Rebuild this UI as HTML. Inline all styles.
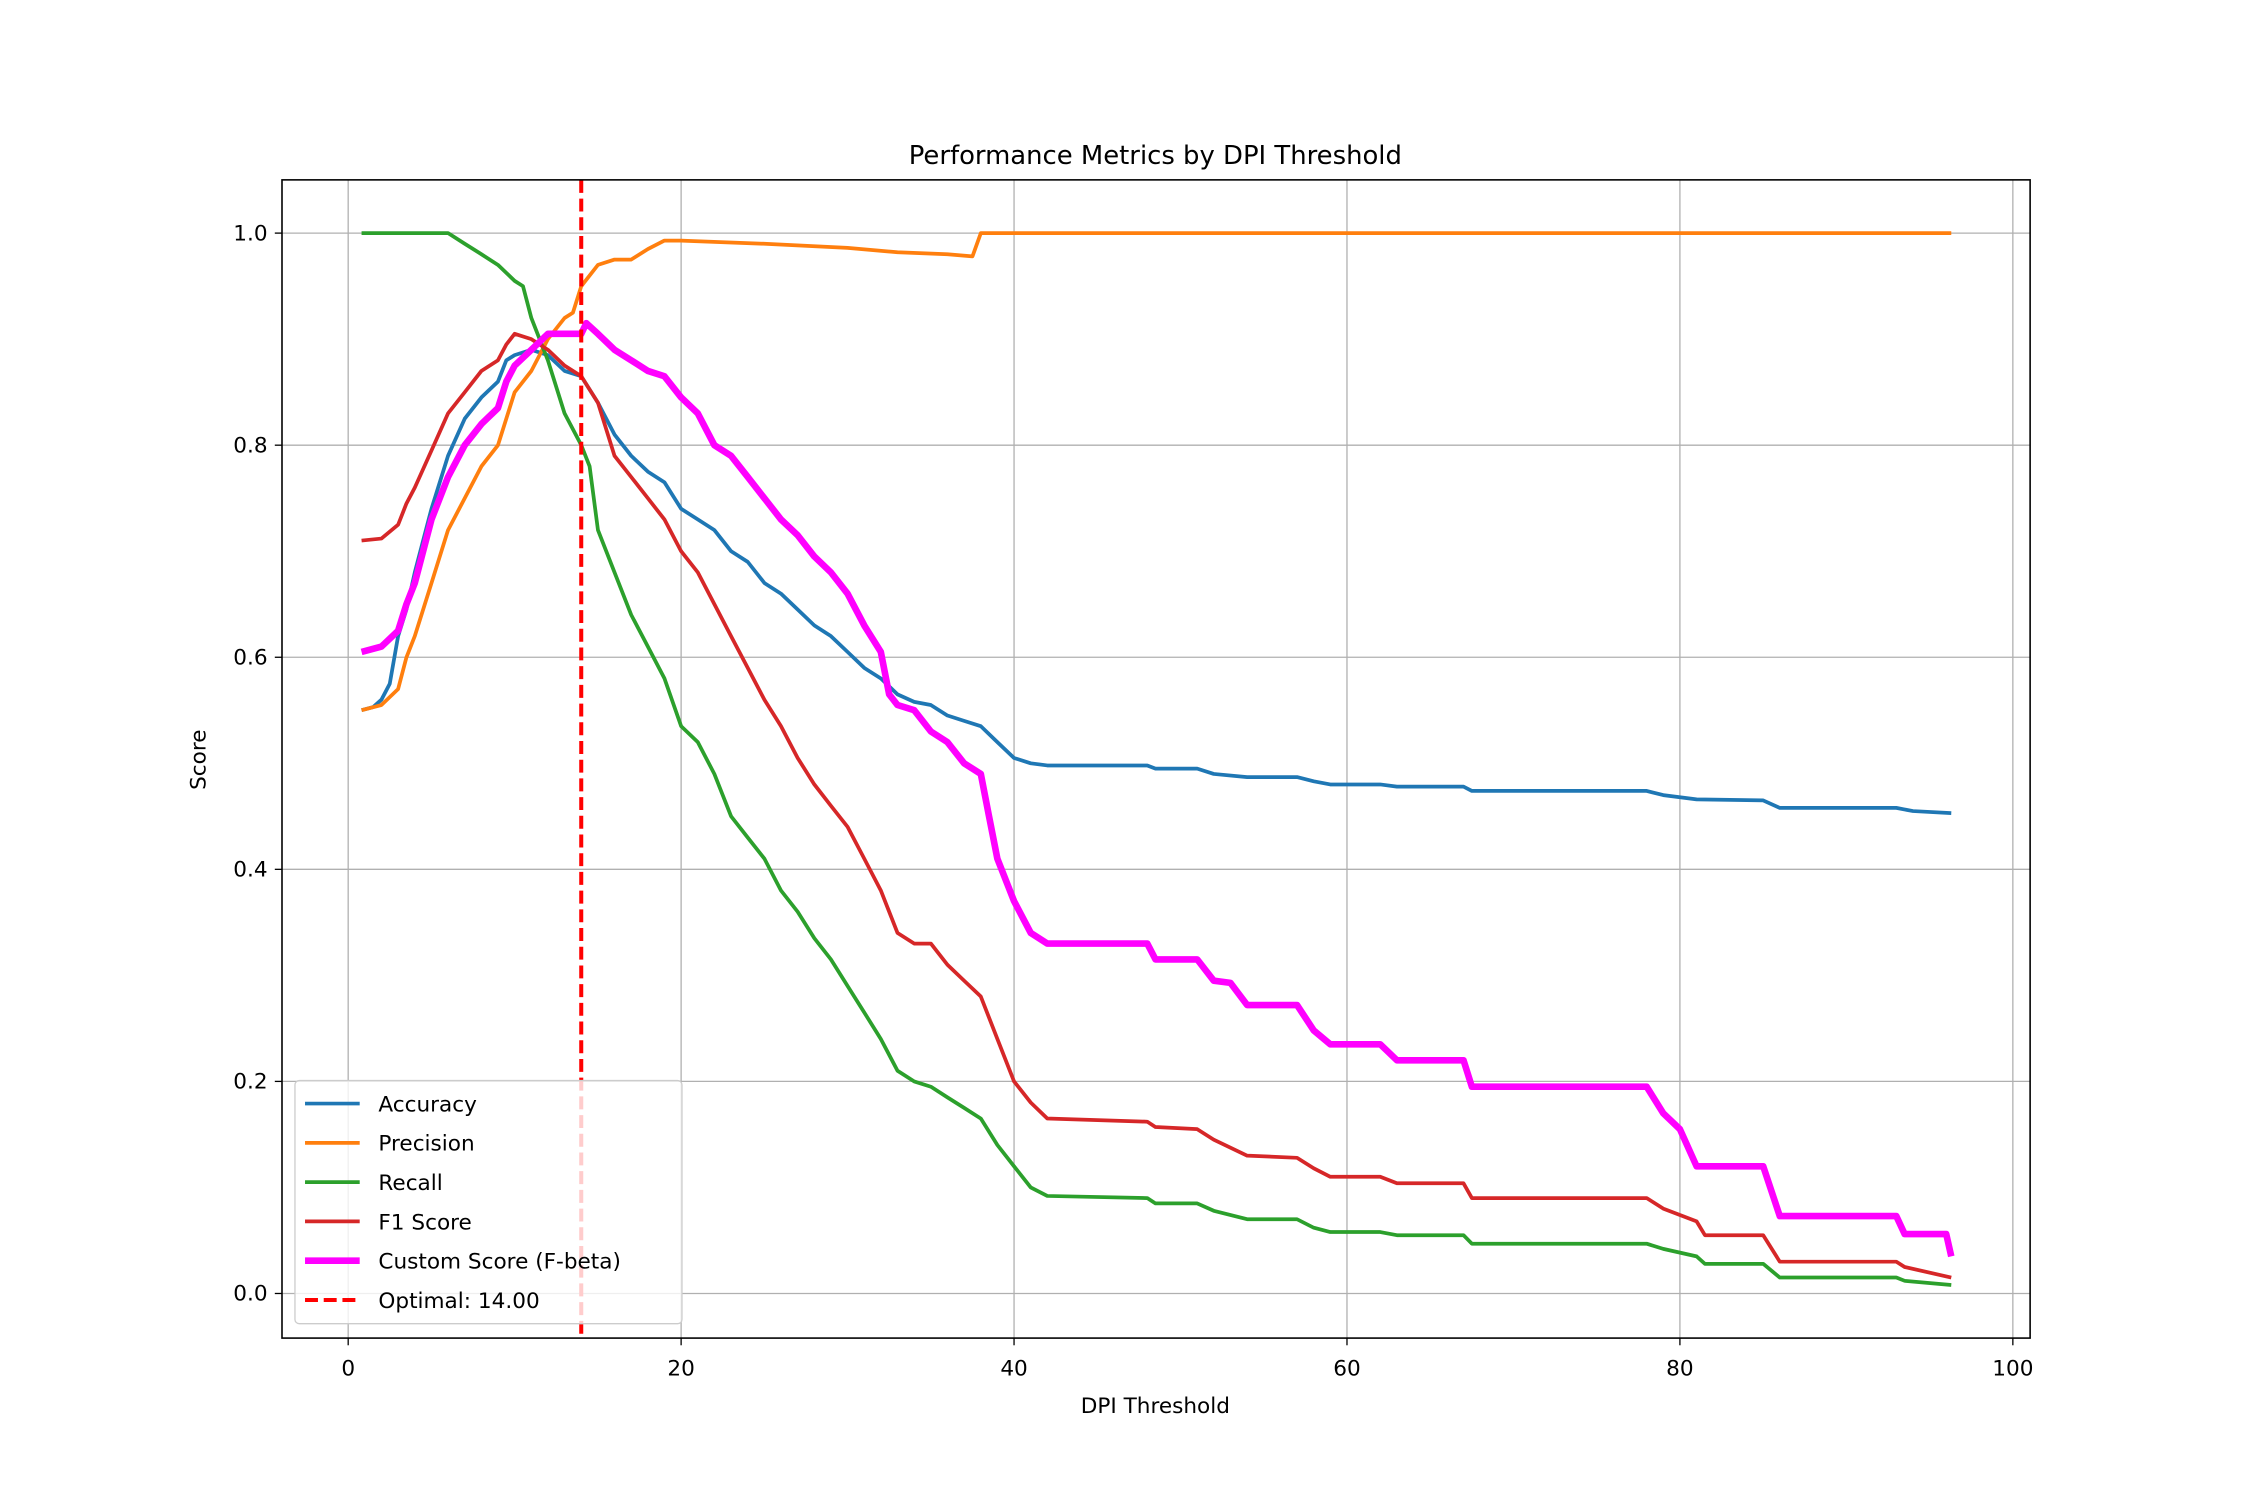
<!DOCTYPE html>
<html><head><meta charset="utf-8"><style>
html,body{margin:0;padding:0;background:#fff}
svg{display:block;font-family:"DejaVu Sans","Liberation Sans",sans-serif}
</style></head><body>
<svg id="chart" width="2256" height="1504" viewBox="0 0 1568 1045.3" xmlns="http://www.w3.org/2000/svg">
<rect width="1568" height="1046" fill="#fff"/>
<g id="grid"></g>
<g id="series"></g>
<rect x="196" y="125" width="1215" height="805" fill="none" stroke="#000" stroke-width="1.1"/>
<g id="ticks"></g>
<text x="803" y="114" font-size="18" text-anchor="middle">Performance Metrics by DPI Threshold</text>
<text x="803" y="982" font-size="15" text-anchor="middle">DPI Threshold</text>
<text transform="translate(143,528) rotate(-90)" font-size="15" text-anchor="middle">Score</text>
<g id="legend"></g>
</svg>
<script>
const xTicks=[0,20,40,60,80,100];
const yTicks=[0.0,0.2,0.4,0.6,0.8,1.0];
const accuracyX=[0.8,1.5,2,2.5,3,3.5,4,5,6,7,8,9,9.5,10,11,12,13,14,15,16,17,18,19,20,21,22,23,24,25,26,27,28,29,30,31,32,33,34,35,36,37,38,39,40,41,42,48,48.5,51,52,54,57,58,59,62,63,67,67.5,78,79,81,85,86,93,94,96.3];
const accuracyY=[0.55,0.553,0.56,0.575,0.62,0.645,0.68,0.74,0.79,0.825,0.845,0.86,0.88,0.885,0.89,0.885,0.87,0.865,0.84,0.81,0.79,0.775,0.765,0.74,0.73,0.72,0.70,0.69,0.67,0.66,0.645,0.63,0.62,0.605,0.59,0.58,0.565,0.558,0.555,0.545,0.54,0.535,0.52,0.505,0.5,0.498,0.498,0.495,0.495,0.49,0.487,0.487,0.483,0.48,0.48,0.478,0.478,0.474,0.474,0.47,0.466,0.465,0.458,0.458,0.455,0.453];
const precisionX=[0.8,2,3,3.5,4,5,6,7,8,9,9.5,10,11,12,13,13.5,14,15,16,17,18,19,20,25,30,33,36,37.5,38,96.3];
const precisionY=[0.55,0.555,0.57,0.6,0.62,0.67,0.72,0.75,0.78,0.80,0.825,0.85,0.87,0.90,0.92,0.925,0.95,0.97,0.975,0.975,0.985,0.993,0.993,0.99,0.986,0.982,0.98,0.978,1.0,1.0];
const recallX=[0.8,6,7,8,9,10,10.5,11,12,13,14,14.5,15,16,17,18,19,20,21,22,23,24,25,26,27,28,29,30,31,32,33,34,35,36,37,38,39,40,41,42,48,48.5,51,52,54,57,58,59,62,63,67,67.5,78,79,81,81.5,85,86,93,93.5,96.3];
const recallY=[1.0,1.0,0.99,0.98,0.97,0.955,0.95,0.92,0.88,0.83,0.80,0.78,0.72,0.68,0.64,0.61,0.58,0.535,0.52,0.49,0.45,0.43,0.41,0.38,0.36,0.335,0.315,0.29,0.265,0.24,0.21,0.2,0.195,0.185,0.175,0.165,0.14,0.12,0.1,0.092,0.09,0.085,0.085,0.078,0.07,0.07,0.062,0.058,0.058,0.055,0.055,0.047,0.047,0.042,0.035,0.028,0.028,0.015,0.015,0.012,0.008];
const f1X=[0.8,2,3,3.5,4,5,6,7,8,9,9.5,10,11,12,13,14,15,16,17,18,19,20,21,22,23,24,25,26,27,28,29,30,31,32,33,34,35,36,37,38,39,40,41,42,48,48.5,51,52,54,57,58,59,62,63,67,67.5,78,79,81,81.5,85,86,93,93.5,96.3];
const f1Y=[0.71,0.712,0.725,0.745,0.76,0.795,0.83,0.85,0.87,0.88,0.895,0.905,0.9,0.89,0.875,0.865,0.84,0.79,0.77,0.75,0.73,0.70,0.68,0.65,0.62,0.59,0.56,0.535,0.505,0.48,0.46,0.44,0.41,0.38,0.34,0.33,0.33,0.31,0.295,0.28,0.24,0.2,0.18,0.165,0.162,0.157,0.155,0.145,0.13,0.128,0.118,0.11,0.11,0.104,0.104,0.09,0.09,0.08,0.068,0.055,0.055,0.03,0.03,0.025,0.015];
const customX=[0.8,2,3,3.5,4,5,6,7,8,9,9.5,10,11,12,13,14,14.3,15,16,17,18,19,20,21,22,23,24,25,26,27,28,29,30,31,32,32.5,33,34,35,36,37,38,38.5,39,40,41,42,48,48.5,51,52,53,54,57,58,59,62,63,67,67.5,78,79,80,81,85,86,93,93.5,96,96.3];
const customY=[0.605,0.61,0.625,0.65,0.67,0.73,0.77,0.8,0.82,0.835,0.86,0.875,0.89,0.905,0.905,0.905,0.915,0.905,0.89,0.88,0.87,0.865,0.845,0.83,0.8,0.79,0.77,0.75,0.73,0.715,0.695,0.68,0.66,0.63,0.605,0.565,0.555,0.55,0.53,0.52,0.5,0.49,0.45,0.41,0.37,0.34,0.33,0.33,0.315,0.315,0.295,0.293,0.272,0.272,0.248,0.235,0.235,0.22,0.22,0.195,0.195,0.17,0.155,0.12,0.12,0.073,0.073,0.056,0.056,0.035];
const optimal=14;

const NS="http://www.w3.org/2000/svg";
const sx=v=>242+v*11.57, sy=v=>899-v*737;
function mk(tag,attrs,parent){const e=document.createElementNS(NS,tag);for(const k in attrs)e.setAttribute(k,attrs[k]);parent.appendChild(e);return e;}
const grid=document.getElementById('grid'),ticks=document.getElementById('ticks'),series=document.getElementById('series'),legend=document.getElementById('legend');
xTicks.forEach(t=>{
 const g=mk('line',{x1:sx(t),x2:sx(t),y1:125,y2:930,stroke:'#b0b0b0','stroke-width':0.9},grid);
 
 
 const tk=mk('line',{x1:sx(t),x2:sx(t),y1:930,y2:935,stroke:'#000','stroke-width':0.9},ticks);
 
 
 const l=mk('text',{x:sx(t),y:956,'font-size':15,'text-anchor':'middle'},ticks);l.textContent=t;
 
 
});
yTicks.forEach(t=>{
 const g=mk('line',{x1:196,x2:1411,y1:sy(t),y2:sy(t),stroke:'#b0b0b0','stroke-width':0.9},grid);
 
 
 const tk=mk('line',{x1:191,x2:196,y1:sy(t),y2:sy(t),stroke:'#000','stroke-width':0.9},ticks);
 
 
 const l=mk('text',{x:186,y:sy(t)+5,'font-size':15,'text-anchor':'end'},ticks);l.textContent=t.toFixed(1);
 
 
});
const defs=[
 ['accuracy-line',accuracyX,accuracyY,'#1f77b4',2.6],
 ['precision-line',precisionX,precisionY,'#ff7f0e',2.6],
 ['recall-line',recallX,recallY,'#2ca02c',2.6],
 ['f1-score-line',f1X,f1Y,'#d62728',2.6],
 ['custom-score-line',customX,customY,'#ff00ff',4.6]
];
defs.forEach(([n,xs,ys,c,w])=>{
 const p=mk('polyline',{points:xs.map((x,i)=>sx(x).toFixed(1)+','+sy(ys[i]).toFixed(1)).join(' '),fill:'none',stroke:c,'stroke-width':w,'stroke-linejoin':'round'},series);
 
 
});
const opt=mk('line',{x1:sx(optimal),x2:sx(optimal),y1:125,y2:930,stroke:'#ff0000','stroke-width':2.8,'stroke-dasharray':'9,4'},series);


const box=mk('rect',{x:205,y:751,width:269,height:169,rx:3,fill:'#fff','fill-opacity':0.8,stroke:'#ccc','stroke-width':0.9},legend);


const items=[['Accuracy','#1f77b4',2.6,''],['Precision','#ff7f0e',2.6,''],['Recall','#2ca02c',2.6,''],['F1 Score','#d62728',2.6,''],['Custom Score (F-beta)','#ff00ff',4.6,''],['Optimal: 14.00','#ff0000',2.8,'9,4']];
items.forEach((it,i)=>{
 const y=767+i*27.3;
 const ln=mk('line',{x1:212,x2:250,y1:y,y2:y,stroke:it[1],'stroke-width':it[2],'stroke-dasharray':it[3]||'none'},legend);
 
 
 const t=mk('text',{x:263,y:y+5.5,'font-size':15},legend);t.textContent=it[0];
 
 
});
</script>
</body></html>
